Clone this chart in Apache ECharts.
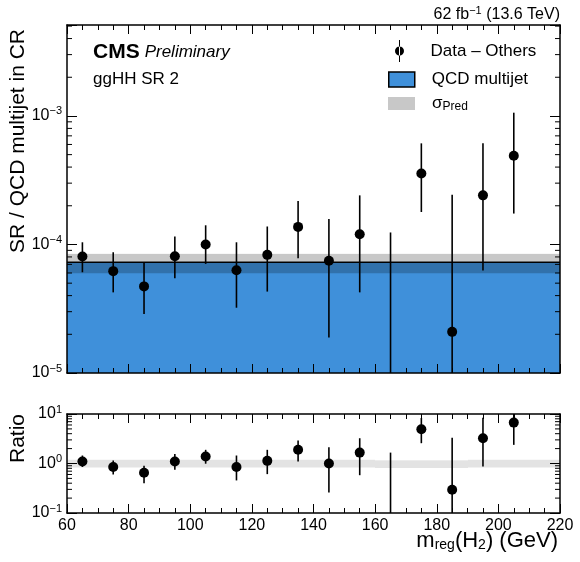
<!DOCTYPE html>
<html>
<head>
<meta charset="utf-8">
<script src="https://cdn.jsdelivr.net/npm/echarts@6/dist/echarts.min.js"></script>
<style>
html, body { margin: 0; padding: 0; background: #fff; }
#main { width: 580px; height: 562px; }
</style>
</head>
<body>
<div id="main"></div>
<script>
// bin edges and centres (GeV)
var binEdges = [60, 70, 80, 90, 100, 110, 120, 130, 140, 150, 160, 170, 180, 190, 200, 210, 220];
var binCenters = [65, 75, 85, 95, 105, 115, 125, 135, 145, 155, 165, 175, 185, 195, 205];

// Data - Others, SR / QCD in CR (null = not drawn, negative)
var dataVal = [8.05e-5, 6.2e-5, 4.72e-5, 8.1e-5, 1.0e-4, 6.3e-5, 8.3e-5, 1.37e-4, 7.46e-5, 1.2e-4, null, 3.57e-4, 2.09e-5, 2.41e-4, 4.9e-4];
var dataHi = [1.04e-4, 8.7e-5, 7.2e-5, 1.155e-4, 1.41e-4, 1.04e-4, 1.38e-4, 2.18e-4, 1.58e-4, 2.41e-4, 1.24e-4, 6.12e-4, 2.44e-4, 6.12e-4, 1.06e-3];
var dataLo = [6.08e-5, 4.24e-5, 2.88e-5, 5.46e-5, 7.06e-5, 3.22e-5, 4.3e-5, 7.8e-5, 1.89e-5, 4.24e-5, 1e-6, 1.79e-4, 1e-6, 6.27e-5, 1.74e-4];

// QCD multijet prediction per bin and its uncertainty
var qcdVal = [7.27e-5, 7.27e-5, 7.27e-5, 7.27e-5, 7.27e-5, 7.27e-5, 7.27e-5, 7.27e-5, 7.27e-5, 7.27e-5, 7.27e-5, 7.27e-5, 7.27e-5, 7.27e-5, 7.27e-5, 7.27e-5];
var predLo = [5.97e-5, 5.97e-5, 5.97e-5, 5.97e-5, 5.97e-5, 5.97e-5, 5.97e-5, 5.97e-5, 5.97e-5, 5.97e-5, 5.97e-5, 5.97e-5, 5.97e-5, 5.97e-5, 5.97e-5, 5.97e-5];
var predHi = [8.45e-5, 8.45e-5, 8.45e-5, 8.45e-5, 8.45e-5, 8.45e-5, 8.45e-5, 8.45e-5, 8.45e-5, 8.45e-5, 8.45e-5, 8.45e-5, 8.45e-5, 8.45e-5, 8.45e-5, 8.45e-5];

// ratio panel
var ratioVal = [1.1, 0.85, 0.65, 1.1, 1.38, 0.85, 1.13, 1.89, 1.0, 1.66, null, 4.9, 0.296, 3.24, 6.7];
var ratioHi = [1.45, 1.15, 0.9, 1.55, 1.89, 1.45, 1.89, 2.9, 2.14, 3.24, 1.66, 8.3, 3.33, 8.4, 14.6];
var ratioLo = [0.85, 0.6, 0.4, 0.75, 0.99, 0.455, 0.61, 1.1, 0.26, 0.58, 0.01, 2.57, 0.01, 0.87, 2.38];
var ratioBandLo = [0.83, 0.83, 0.83, 0.83, 0.83, 0.83, 0.83, 0.83, 0.83, 0.83, 0.81, 0.81, 0.81, 0.83, 0.83, 0.83];
var ratioBandHi = [1.19, 1.19, 1.19, 1.19, 1.19, 1.19, 1.19, 1.19, 1.19, 1.19, 1.16, 1.16, 1.16, 1.19, 1.19, 1.19];

var FONT = '"Liberation Sans", Arial, Helvetica, sans-serif';
var mainMin = 1e-5, mainMax = 5.1e-3;
var ratioMin = 0.1, ratioMax = 10;

var chart = echarts.init(document.getElementById('main'));

function powLabel(v) {
    var e = Math.log10(v), r = Math.round(e);
    if (Math.abs(e - r) > 1e-6) return '';
    return '{b|10}{e|' + (r < 0 ? '\u2212' : '') + Math.abs(r) + '}';
}
var powRich = {
    b: { fontSize: 16, fontFamily: FONT, color: '#000' },
    e: { fontSize: 11, fontFamily: FONT, color: '#000', padding: [0, 0, 9, 0] }
};

// minor ticks 2..9 x 10^n inside a range
function minorTicks(lo, hi) {
    var out = [];
    for (var p = Math.floor(Math.log10(lo)); p <= Math.ceil(Math.log10(hi)); p++) {
        for (var k = 2; k <= 9; k++) {
            var v = k * Math.pow(10, p);
            if (v > lo && v < hi) out.push([60, v]);
        }
    }
    return out;
}

function binRows(a, b) {
    var rows = [];
    for (var i = 0; i < binEdges.length - 1; i++) {
        rows.push([binEdges[i], binEdges[i + 1], a[i], b ? b[i] : 0]);
    }
    return rows;
}
function pointRows(v) {
    var rows = [];
    for (var i = 0; i < binCenters.length; i++) {
        if (v[i] !== null) rows.push([binCenters[i], v[i]]);
    }
    return rows;
}
function errRows(lo, hi) {
    var rows = [];
    for (var i = 0; i < binCenters.length; i++) rows.push([binCenters[i], lo[i], hi[i]]);
    return rows;
}

function clampY(y, cs) {
    return Math.max(cs.y, Math.min(cs.y + cs.height, y));
}

function renderFill(params, api) {
    var cs = params.coordSys;
    var p0 = api.coord([api.value(0), api.value(2)]);
    var p1 = api.coord([api.value(1), api.value(2)]);
    var x0 = Math.round(p0[0]), x1 = Math.round(p1[0]);
    var y = clampY(p0[1], cs), bottom = cs.y + cs.height;
    return {
        type: 'group',
        children: [
            { type: 'rect', shape: { x: x0, y: y, width: x1 - x0, height: bottom - y }, style: { fill: '#3f90da' } },
            { type: 'line', shape: { x1: x0, y1: y, x2: x1, y2: y }, style: { stroke: '#000', lineWidth: 1.5 } }
        ]
    };
}
function bandRenderer(fill) {
    return function (params, api) {
        var cs = params.coordSys;
        var a = api.coord([api.value(0), api.value(3)]);
        var b = api.coord([api.value(1), api.value(2)]);
        var x0 = Math.round(a[0]), x1 = Math.round(b[0]);
        var y0 = clampY(a[1], cs), y1 = clampY(b[1], cs);
        return { type: 'rect', shape: { x: x0, y: y0, width: x1 - x0, height: y1 - y0 }, style: { fill: fill } };
    };
}
function renderErr(params, api) {
    var cs = params.coordSys;
    var lo = api.coord([api.value(0), api.value(1)]);
    var hi = api.coord([api.value(0), api.value(2)]);
    return {
        type: 'line',
        shape: { x1: lo[0], y1: clampY(lo[1], cs), x2: hi[0], y2: clampY(hi[1], cs) },
        style: { stroke: '#000', lineWidth: 1.6 }
    };
}
function renderMinor(params, api) {
    var cs = params.coordSys;
    var y = api.coord([60, api.value(1)])[1];
    return {
        type: 'group',
        children: [
            { type: 'line', shape: { x1: cs.x, y1: y, x2: cs.x + 5, y2: y }, style: { stroke: '#000', lineWidth: 1 } },
            { type: 'line', shape: { x1: cs.x + cs.width, y1: y, x2: cs.x + cs.width - 5, y2: y }, style: { stroke: '#000', lineWidth: 1 } }
        ]
    };
}

function xAxisDef(grid, pos, labels) {
    return {
        type: 'value', gridIndex: grid, position: pos, min: 60, max: 220, interval: 20, z: 10,
        axisLine: { show: true, onZero: false, lineStyle: { color: '#000', width: 1.5 } },
        axisTick: { show: true, inside: true, length: 9, lineStyle: { color: '#000', width: 1 } },
        minorTick: { show: true, splitNumber: 4, length: 5, lineStyle: { color: '#000', width: 1 } },
        axisLabel: { show: labels, color: '#000', fontSize: 16, fontFamily: FONT, margin: 5 },
        splitLine: { show: false }
    };
}
function yAxisDef(grid, pos, min, max, labels) {
    return {
        type: 'log', logBase: 10, gridIndex: grid, position: pos, min: min, max: max, z: 10,
        axisLine: { show: true, onZero: false, lineStyle: { color: '#000', width: 1.5 } },
        axisTick: { show: true, inside: true, length: 10, lineStyle: { color: '#000', width: 1 } },
        axisLabel: { show: labels, formatter: powLabel, rich: powRich, margin: 5 },
        splitLine: { show: false }
    };
}

var legendText = { color: '#000', fontSize: 17, fontFamily: FONT, padding: [0, 0, 0, 12],
    rich: { s: { fontSize: 17, fontFamily: FONT, color: '#000' }, sub: { fontSize: 12, fontFamily: FONT, color: '#000', padding: [7, 0, 0, 0] } } };
function legendFmt(name) {
    return name === 'σ_Pred' ? '{s|σ}{sub|Pred}' : name;
}

var option = {
    animation: false,
    backgroundColor: '#fff',
    title: [
        {
            text: '{a|62 fb}{s|\u22121}{a| (13.6 TeV)}', right: 20, top: 5, padding: 0,
            textStyle: { fontWeight: 'normal', rich: {
                a: { fontSize: 16, fontWeight: 'normal', fontFamily: FONT, color: '#000' },
                s: { fontSize: 11, fontWeight: 'normal', fontFamily: FONT, color: '#000', padding: [0, 0, 8, 0] }
            } }
        },
        {
            text: '{c|CMS} {p|Preliminary}', left: 93, top: 42, padding: 0,
            textStyle: { fontWeight: 'normal', rich: {
                c: { fontSize: 21, fontWeight: 'bold', fontFamily: FONT, color: '#000' },
                p: { fontSize: 17, fontWeight: 'normal', fontStyle: 'italic', fontFamily: FONT, color: '#000' }
            } }
        },
        {
            text: 'ggHH SR 2', left: 93, top: 71, padding: 0,
            textStyle: { fontSize: 17, fontWeight: 'normal', fontFamily: FONT, color: '#000' }
        }
    ],
    legend: [
        {
            data: [{ name: 'Data – Others', icon: 'path://M4.5,0H5.5V22H4.5Z M0.5,11A4.5,4.5 0 1,0 9.5,11A4.5,4.5 0 1,0 0.5,11Z', itemStyle: { color: '#000' } }],
            left: 395, top: 40, padding: 0, itemWidth: 10, itemHeight: 22, selectedMode: false,
            textStyle: { color: '#000', fontSize: 17, fontFamily: FONT, padding: [0, 0, 0, 21] }
        },
        {
            data: [{ name: 'QCD multijet', icon: 'rect', itemStyle: { color: '#3f90da', borderColor: '#000', borderWidth: 1.5 } }],
            left: 388, top: 71, padding: 0, itemWidth: 26, itemHeight: 15, selectedMode: false,
            textStyle: legendText
        },
        {
            data: [{ name: 'σ_Pred', icon: 'rect', itemStyle: { color: '#c8c8c8', borderWidth: 0 } }],
            left: 388, top: 95, padding: 0, itemWidth: 27, itemHeight: 13, selectedMode: false,
            formatter: legendFmt, textStyle: legendText
        }
    ],
    grid: [
        { left: 67, right: 20, top: 25, height: 348 },
        { left: 67, right: 20, top: 414, height: 99 }
    ],
    xAxis: [
        xAxisDef(0, 'bottom', false),
        xAxisDef(1, 'bottom', true),
        xAxisDef(0, 'top', false),
        xAxisDef(1, 'top', false)
    ],
    yAxis: [
        yAxisDef(0, 'left', mainMin, mainMax, true),
        yAxisDef(1, 'left', ratioMin, ratioMax, true),
        yAxisDef(0, 'right', mainMin, mainMax, false),
        yAxisDef(1, 'right', ratioMin, ratioMax, false)
    ],
    graphic: [
        {
            type: 'text', x: 8, y: 29, rotation: Math.PI / 2, z: 20,
            style: { text: 'SR / QCD multijet in CR', font: '21px ' + FONT, fill: '#000', align: 'right', verticalAlign: 'top' }
        },
        {
            type: 'text', x: 8, y: 414, rotation: Math.PI / 2, z: 20,
            style: { text: 'Ratio', font: '21px ' + FONT, fill: '#000', align: 'right', verticalAlign: 'top' }
        },
        {
            type: 'text', right: 22, top: 530, z: 20,
            style: {
                text: '{a|m}{s|reg}{a|(H}{s|2}{a|) (GeV)}', fill: '#000',
                rich: {
                    a: { fontSize: 22, fontFamily: FONT, fill: '#000' },
                    s: { fontSize: 14, fontFamily: FONT, fill: '#000', padding: [9, 0, 0, 0] }
                }
            }
        }
    ],
    series: [
        {
            name: 'QCD multijet', type: 'custom', xAxisIndex: 0, yAxisIndex: 0, z: 1, silent: true,
            renderItem: renderFill, data: binRows(qcdVal), encode: { x: [0, 1], y: 2 }
        },
        {
            name: 'σ_Pred', type: 'custom', xAxisIndex: 0, yAxisIndex: 0, z: 2, silent: true,
            renderItem: bandRenderer('rgba(0,0,0,0.215)'), data: binRows(predLo, predHi), encode: { x: [0, 1], y: [2, 3] }
        },
        {
            name: 'Data – Others', type: 'custom', xAxisIndex: 0, yAxisIndex: 0, z: 3, silent: true,
            renderItem: renderErr, data: errRows(dataLo, dataHi), encode: { x: 0, y: [1, 2] }
        },
        {
            name: 'Data – Others', type: 'scatter', xAxisIndex: 0, yAxisIndex: 0, z: 4, silent: true,
            symbol: 'circle', symbolSize: 10, itemStyle: { color: '#000', opacity: 1 }, data: pointRows(dataVal)
        },
        {
            name: 'σ_Pred', type: 'custom', xAxisIndex: 1, yAxisIndex: 1, z: 2, silent: true,
            renderItem: bandRenderer('rgba(0,0,0,0.11)'), data: binRows(ratioBandLo, ratioBandHi), encode: { x: [0, 1], y: [2, 3] }
        },
        {
            name: 'Data – Others', type: 'custom', xAxisIndex: 1, yAxisIndex: 1, z: 3, silent: true,
            renderItem: renderErr, data: errRows(ratioLo, ratioHi), encode: { x: 0, y: [1, 2] }
        },
        {
            name: 'Data – Others', type: 'scatter', xAxisIndex: 1, yAxisIndex: 1, z: 4, silent: true,
            symbol: 'circle', symbolSize: 10, itemStyle: { color: '#000', opacity: 1 }, data: pointRows(ratioVal)
        },
        {
            type: 'custom', xAxisIndex: 0, yAxisIndex: 0, z: 12, silent: true,
            renderItem: renderMinor, data: minorTicks(mainMin, mainMax)
        },
        {
            type: 'custom', xAxisIndex: 1, yAxisIndex: 1, z: 12, silent: true,
            renderItem: renderMinor, data: minorTicks(ratioMin, ratioMax)
        }
    ]
};

chart.setOption(option);
</script>
</body>
</html>
